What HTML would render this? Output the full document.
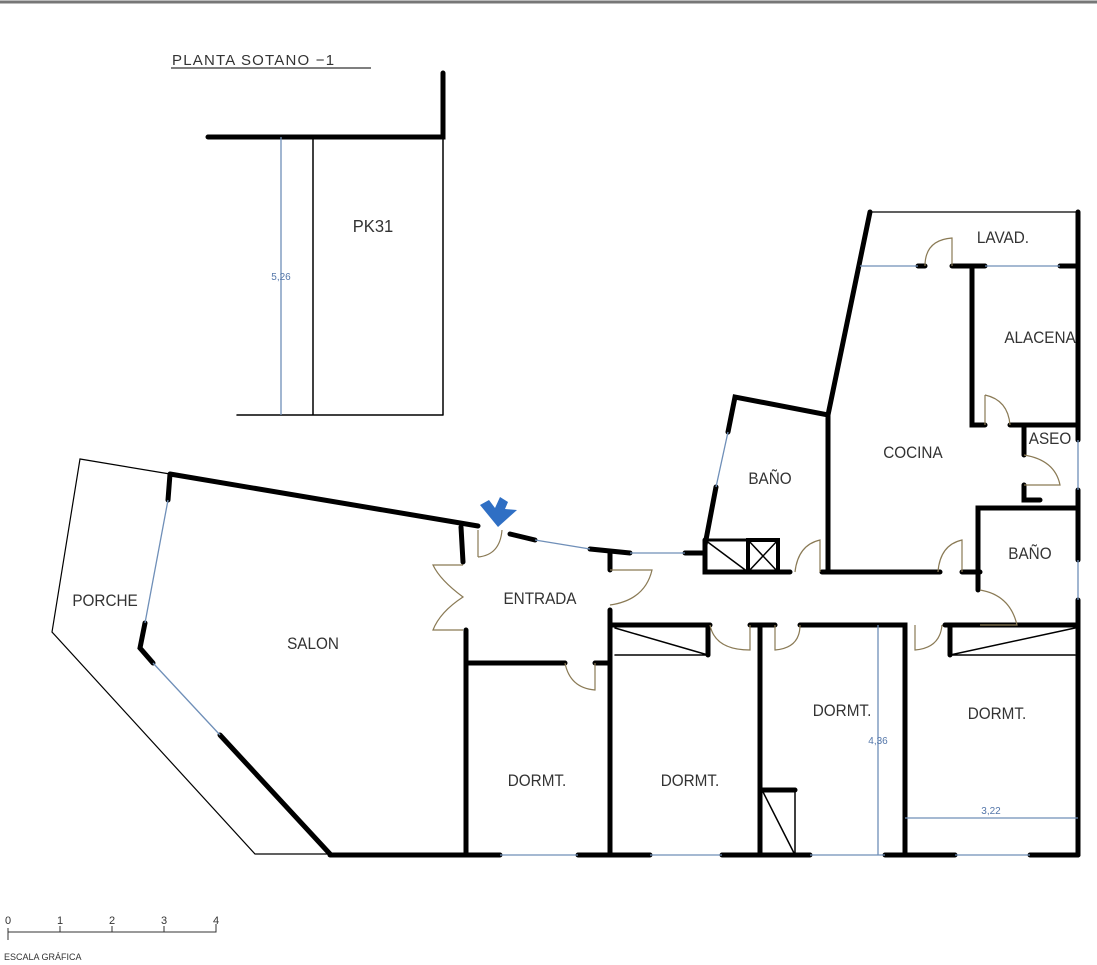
<!DOCTYPE html>
<html><head><meta charset="utf-8"><style>
body{margin:0;background:#fff}
svg{display:block}
text{font-family:"Liberation Sans",sans-serif;fill:#333}
</style></head><body>
<svg width="1097" height="965" viewBox="0 0 1097 965">
<rect width="1097" height="965" fill="#fff"/>
<line x1="0" y1="2" x2="1097" y2="2" stroke="#777" stroke-width="3"/>
<text x="172" y="65" font-size="15" letter-spacing="1.2">PLANTA  SOTANO  −1</text>
<line x1="171" y1="68" x2="371" y2="68" stroke="#333" stroke-width="1.2"/>
<g stroke="#000" fill="none" stroke-linecap="round">
<path d="M208 137 H443 V73" stroke-width="5"/>
<path d="M313 137 V415 M443 137 V415 M237 415 H443" stroke-width="1.5"/>
<path d="M170 474 L80 459 L52 632 L255 854 H330" stroke-width="1.2"/>
<path d="M170 474 L478 526 M170 474 L168 500 M145 623 L140 648 L153 663 M220 735 L330 854" stroke-width="5"/>
<path d="M461 527 L463 562 M466 630 V855 M610 553 V570 M610 610 V855" stroke-width="5"/>
<path d="M510 534 L535 540 M590 549 L630 553 M685 553 L705 553" stroke-width="5"/>
<path d="M466 663 H565 M595 663 H610" stroke-width="5"/>
<path d="M705 545 L716 487 M728 432 L735 397 L828 415 L870 212 M828 415 V572" stroke-width="5"/>
<path d="M705 540 V572 H790 M822 572 H940 M962 572 H980" stroke-width="5"/>
<rect x="705" y="540" width="43" height="32" stroke-width="3"/>
<rect x="748" y="540" width="30" height="32" stroke-width="4"/>
<path d="M705 540 L748 572 M748 540 L778 572 M778 540 L748 572" stroke-width="1.5"/>
<path d="M978 590 V508 H1078 M1078 212 V440 M1078 490 V560 M1078 600 V855" stroke-width="5"/>
<path d="M870 212 H1078" stroke-width="1.2"/>
<path d="M918 266 H925 M952 266 H985 M1060 266 H1078 M972 266 V425 H985 M1010 425 H1078 M1024 425 V455 M1024 485 V500 H1040" stroke-width="5"/>
<path d="M610 625 H710 M750 625 H775 M760 625 V855 M800 625 H905 V855 M945 625 H1078" stroke-width="5"/>
<path d="M708 625 V655 M950 625 V655" stroke-width="5"/>
<path d="M615 655 H708 L615 628 M950 655 H1075 M950 655 L1075 628" stroke-width="1.5"/>
<path d="M762 790 H795" stroke-width="5"/>
<path d="M795 790 V855 M762 790 L795 855" stroke-width="1.5"/>
<path d="M330 855 H500 M578 855 H650 M722 855 H810 M885 855 H955 M1030 855 H1078" stroke-width="5"/>
</g>
<g stroke="#6f8fb8" stroke-width="1.3" fill="none">
<path d="M168 500 L145 623 M153 663 L220 735 M535 540 L590 549 M630 553 H685 M716 487 L728 432"/>
<path d="M860 266 H918 M985 266 H1060 M1078 440 V490 M1078 560 V600"/>
<path d="M500 855 H578 M650 855 H722 M810 855 H885 M955 855 H1030"/>
<path d="M281 137 V415 M878 625 V855 M905 818 H1078"/>
</g>
<g stroke="#8a7a55" stroke-width="1.2" fill="none">
<path d="M478 557 Q500 555 502 530 M478 530 V557"/>
<path d="M463 565 H433 Q440 580 463 597 Q440 612 433 630 H463"/>
<path d="M610 570 H652 Q645 600 610 605"/>
<path d="M595 663 V690 Q570 688 565 663"/>
<path d="M820 572 V540 Q798 545 795 572"/>
<path d="M962 572 V540 Q940 545 938 572"/>
<path d="M980 590 Q1010 595 1017 625 H980"/>
<path d="M925 266 Q925 240 952 238 V266"/>
<path d="M985 395 Q1008 400 1010 425 M985 395 V425"/>
<path d="M1024 455 Q1055 460 1060 485 H1024"/>
<path d="M710 625 Q715 650 750 650 V625"/>
<path d="M775 625 V650 Q800 648 800 625"/>
<path d="M915 625 V650 Q940 648 942 625"/>
</g>
<polygon points="480,505 489,500 495,508 500,497 508,502 505,509 517,510 498,527" fill="#2f6fc4"/>
<g font-size="17">
<text x="373" y="232" text-anchor="middle" font-size="18" transform="translate(373 0) scale(0.92 1) translate(-373 0)">PK31</text>
<g transform="scale(0.9 1)">
<text x="116.7" y="606" text-anchor="middle">PORCHE</text>
<text x="347.8" y="649" text-anchor="middle">SALON</text>
<text x="600" y="604" text-anchor="middle">ENTRADA</text>
<text x="855.6" y="484" text-anchor="middle">BAÑO</text>
<text x="1014.4" y="458" text-anchor="middle">COCINA</text>
<text x="1114.4" y="243" text-anchor="middle">LAVAD.</text>
<text x="1155.6" y="343" text-anchor="middle">ALACENA</text>
<text x="1166.7" y="444" text-anchor="middle">ASEO</text>
<text x="1144.4" y="559" text-anchor="middle">BAÑO</text>
<text x="935.6" y="716" text-anchor="middle">DORMT.</text>
<text x="1107.8" y="719" text-anchor="middle">DORMT.</text>
<text x="596.7" y="786" text-anchor="middle">DORMT.</text>
<text x="766.7" y="786" text-anchor="middle">DORMT.</text>
</g>
</g>
<g font-size="10">
<text x="281" y="280" text-anchor="middle" style="fill:#5577aa">5,26</text>
<text x="878" y="744" text-anchor="middle" style="fill:#5577aa">4,36</text>
<text x="991" y="814" text-anchor="middle" style="fill:#5577aa">3,22</text>
</g>
<g stroke="#333" stroke-width="1" fill="none">
<path d="M8 928 V940 M8 932 H216 V924 M60 932 V926 M112 932 V926 M164 932 V926"/>
</g>
<g font-size="11">
<text x="5" y="924">0</text><text x="57" y="924">1</text><text x="109" y="924">2</text><text x="161" y="924">3</text><text x="213" y="924">4</text>
</g>
<text x="4" y="960" font-size="9">ESCALA  GRÁFICA</text>
</svg>
</body></html>
